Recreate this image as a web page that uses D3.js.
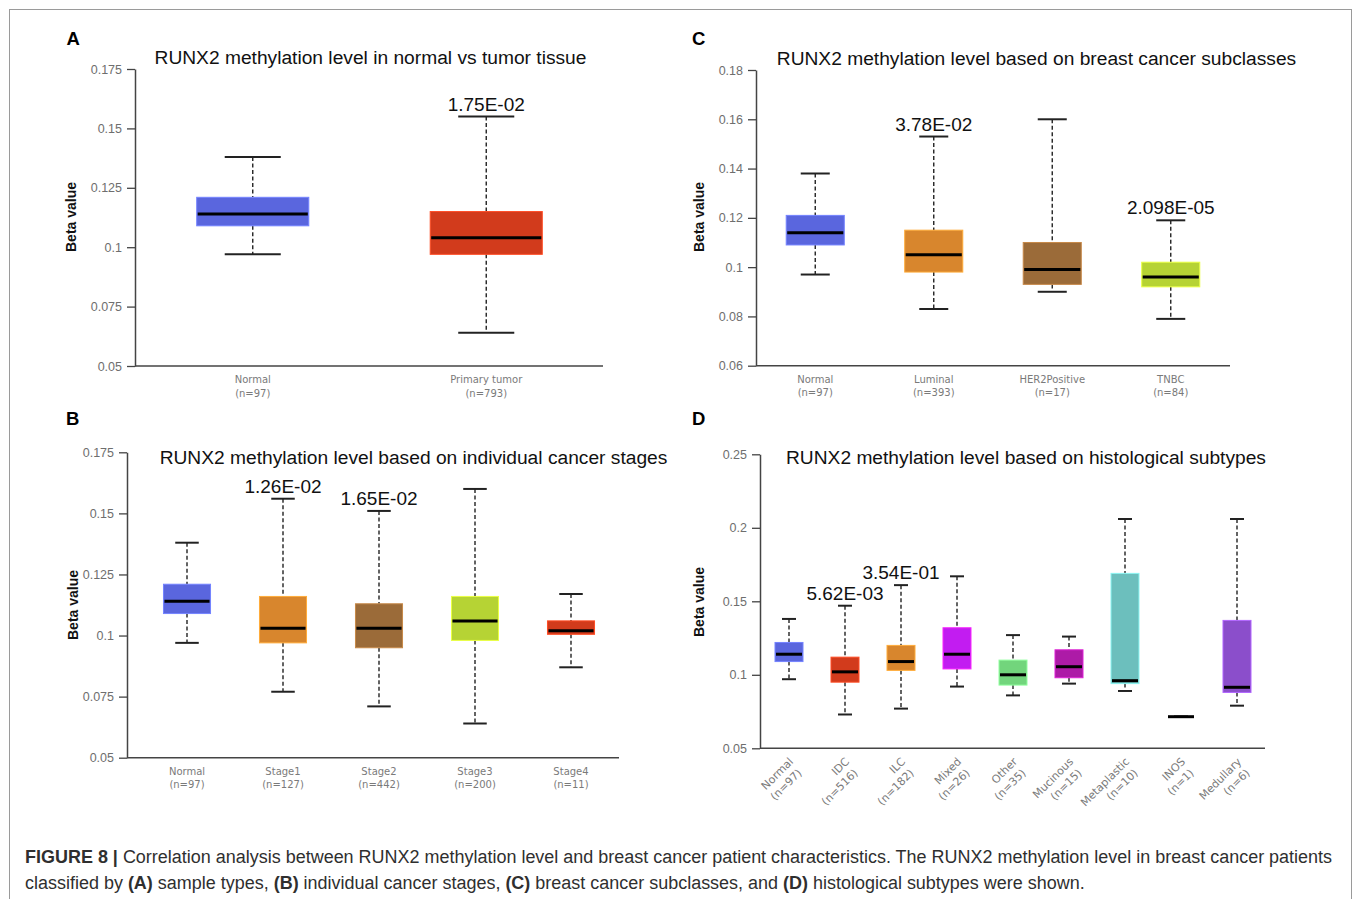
<!DOCTYPE html>
<html>
<head>
<meta charset="utf-8">
<script src="https://cdn.jsdelivr.net/npm/d3@7"></script>
<style>
  body { margin: 0; background: #fff; }
  svg { display: block; }
</style>
</head>
<body>
<svg id="fig" width="1358" height="899"></svg>
<script>
// ---- data: each box is [min, q1, median, q3, max] ----
var catsA = ["Normal", "Primary tumor"];
var nA = [97, 793];
var boxA = [[0.097, 0.109, 0.114, 0.121, 0.138], [0.064, 0.097, 0.104, 0.115, 0.155]];
var pA = [null, "1.75E-02"];
var ticksA = [0.05, 0.075, 0.1, 0.125, 0.15, 0.175];

var catsB = ["Normal", "Stage1", "Stage2", "Stage3", "Stage4"];
var nB = [97, 127, 442, 200, 11];
var boxB = [[0.097, 0.109, 0.114, 0.121, 0.138], [0.077, 0.097, 0.103, 0.116, 0.156],
            [0.071, 0.095, 0.103, 0.113, 0.151], [0.064, 0.098, 0.106, 0.116, 0.160],
            [0.087, 0.1005, 0.102, 0.106, 0.117]];
var pB = [null, "1.26E-02", "1.65E-02", null, null];
var ticksB = [0.05, 0.075, 0.1, 0.125, 0.15, 0.175];

var catsC = ["Normal", "Luminal", "HER2Positive", "TNBC"];
var nC = [97, 393, 17, 84];
var boxC = [[0.097, 0.109, 0.114, 0.121, 0.138], [0.083, 0.098, 0.105, 0.115, 0.153],
            [0.090, 0.093, 0.099, 0.110, 0.160], [0.079, 0.092, 0.096, 0.102, 0.119]];
var pC = [null, "3.78E-02", null, "2.098E-05"];
var ticksC = [0.06, 0.08, 0.1, 0.12, 0.14, 0.16, 0.18];

var catsD = ["Normal", "IDC", "ILC", "Mixed", "Other", "Mucinous", "Metaplastic", "INOS", "Medullary"];
var nD = [97, 516, 182, 26, 35, 15, 10, 1, 6];
var boxD = [[0.097, 0.109, 0.114, 0.122, 0.138], [0.073, 0.095, 0.102, 0.112, 0.147],
            [0.077, 0.103, 0.109, 0.120, 0.161], [0.092, 0.104, 0.114, 0.132, 0.167],
            [0.086, 0.093, 0.100, 0.110, 0.127], [0.094, 0.098, 0.1055, 0.117, 0.126],
            [0.089, 0.094, 0.096, 0.169, 0.206], [0.0715, 0.0715, 0.0715, 0.0715, 0.0715],
            [0.079, 0.088, 0.0915, 0.137, 0.206]];
var pD = [null, "5.62E-03", "3.54E-01", null, null, null, null, null, null];
var ticksD = [0.05, 0.1, 0.15, 0.2, 0.25];

// ---- colours ----
var blue = "#5a66de", red = "#d23b1c", orange = "#d8862d", brown = "#9b6b39", lime = "#b6d334";
var colorsA = [blue, red];
var colorsB = [blue, orange, brown, lime, red];
var colorsC = [blue, orange, brown, lime];
var colorsD = [blue, red, orange, "#c21cf1", "#72d57c", "#ad1ba7", "#6cbfbd", "#222", "#8b4ecb"];

var FONT = "'Liberation Sans', Arial, Helvetica, sans-serif";
var svg = d3.select("#fig");

// frame
svg.append("rect")
    .attr("x", 9.5).attr("y", 9.5)
    .attr("width", 1342).attr("height", 900)
    .attr("fill", "none").attr("stroke", "#9a9a9a").attr("stroke-width", 1);

function boxPanel(o) {
    var g = svg.append("g");
    var y = d3.scaleLinear()
        .domain([o.ticks[0], o.ticks[o.ticks.length - 1]])
        .range([o.bottom, o.top]);
    var x = d3.scaleBand().domain(o.cats).range(o.band);
    var bw = x.bandwidth() * o.boxFrac;

    // y axis
    var ya = g.append("g")
        .attr("transform", "translate(" + o.axisX + ",0)")
        .call(d3.axisLeft(y).tickValues(o.ticks).tickFormat(function(d) { return String(d); })
            .tickSize(8).tickSizeOuter(0).tickPadding(5));
    ya.select(".domain").attr("stroke", "#444").attr("stroke-width", 1.5);
    ya.selectAll(".tick line").attr("stroke", "#444").attr("stroke-width", 1.3);
    ya.selectAll(".tick text")
        .attr("fill", "#6e6e6e").style("font-size", "12.5px").style("font-family", FONT);

    // x axis line
    g.append("line")
        .attr("x1", o.axisX).attr("x2", o.band[1])
        .attr("y1", o.bottom).attr("y2", o.bottom)
        .attr("stroke", "#444").attr("stroke-width", 1.5);

    // category labels
    var lab = g.selectAll("text.cat").data(o.cats).enter().append("text")
        .attr("class", "cat")
        .attr("fill", "#7a7a7a")
        .style("font-family", "'DejaVu Sans', Verdana, sans-serif");
    if (o.rotate) {
        lab.attr("text-anchor", "end")
            .style("font-size", "11px")
            .attr("transform", function(d) {
                return "translate(" + (x(d) + x.bandwidth() / 2 + 5) + "," + (o.bottom + 14) + ") rotate(-45)";
            });
        lab.append("tspan").attr("x", 0).attr("y", 0).text(function(d) { return d; });
        lab.append("tspan").attr("x", -2).attr("dy", 14)
            .text(function(d, i) { return "(n=" + o.n[i] + ")"; });
    } else {
        lab.attr("text-anchor", "middle").style("font-size", "10px");
        lab.append("tspan")
            .attr("x", function(d) { return x(d) + x.bandwidth() / 2; })
            .attr("y", o.bottom + 17)
            .text(function(d) { return d; });
        lab.append("tspan")
            .attr("x", function(d) { return x(d) + x.bandwidth() / 2; })
            .attr("y", o.bottom + 30.5)
            .text(function(d, i) { return "(n=" + o.n[i] + ")"; });
    }

    // boxes
    var rows = o.cats.map(function(c, i) {
        return { c: c, s: o.box[i], col: o.colors[i], p: o.p[i] };
    });
    var b = g.selectAll("g.bx").data(rows).enter().append("g").attr("class", "bx")
        .attr("transform", function(d) { return "translate(" + (x(d.c) + x.bandwidth() / 2) + ",0)"; });

    // whiskers (dashed)
    b.append("line").attr("x1", 0).attr("x2", 0)
        .attr("y1", function(d) { return y(d.s[4]); })
        .attr("y2", function(d) { return y(d.s[3]); })
        .attr("stroke", "#222").attr("stroke-width", 1.4).attr("stroke-dasharray", "4,2.5");
    b.append("line").attr("x1", 0).attr("x2", 0)
        .attr("y1", function(d) { return y(d.s[1]); })
        .attr("y2", function(d) { return y(d.s[0]); })
        .attr("stroke", "#222").attr("stroke-width", 1.4).attr("stroke-dasharray", "4,2.5");
    // caps
    [0, 4].forEach(function(k) {
        b.append("line")
            .attr("x1", -bw / 4).attr("x2", bw / 4)
            .attr("y1", function(d) { return y(d.s[k]); })
            .attr("y2", function(d) { return y(d.s[k]); })
            .attr("stroke", "#222").attr("stroke-width", 2);
    });
    // box
    b.append("rect")
        .attr("x", -bw / 2).attr("width", bw)
        .attr("y", function(d) { return y(d.s[3]); })
        .attr("height", function(d) { return y(d.s[1]) - y(d.s[3]); })
        .attr("fill", function(d) { return d.col; })
        .attr("stroke", function(d) { return d3.color(d.col).brighter(0.7); })
        .attr("stroke-width", 1);
    // median
    b.append("line")
        .attr("x1", -bw / 2 + 1).attr("x2", bw / 2 - 1)
        .attr("y1", function(d) { return y(d.s[2]); })
        .attr("y2", function(d) { return y(d.s[2]); })
        .attr("stroke", "#000").attr("stroke-width", 3);

    // p-value labels
    b.filter(function(d) { return d.p; }).append("text")
        .attr("text-anchor", "middle")
        .attr("x", 0)
        .attr("y", function(d) { return y(d.s[4]) - 6; })
        .style("font-family", FONT).style("font-size", "19px")
        .attr("fill", "#111")
        .text(function(d) { return d.p; });

    // title
    g.append("text")
        .attr("x", o.titleX).attr("y", o.titleY + 7)
        .attr("text-anchor", "middle")
        .style("font-family", FONT).style("font-size", "19.2px")
        .attr("fill", "#111")
        .text(o.title);

    // y label
    g.append("text")
        .attr("transform", "translate(" + (o.yLabX + 5) + "," + o.yLabY + ") rotate(-90)")
        .attr("text-anchor", "middle")
        .style("font-family", FONT).style("font-size", "14px").style("font-weight", "bold")
        .attr("fill", "#111")
        .text("Beta value");

    // panel letter
    g.append("text")
        .attr("x", o.letterX).attr("y", o.letterY)
        .style("font-family", FONT).style("font-size", "18.5px").style("font-weight", "bold")
        .attr("fill", "#000")
        .text(o.letter);
}

boxPanel({ cats: catsA, n: nA, box: boxA, p: pA, ticks: ticksA, colors: colorsA,
    top: 69, bottom: 366, axisX: 135, band: [136, 603], boxFrac: 0.48,
    title: "RUNX2 methylation level in normal vs tumor tissue", titleX: 370.5, titleY: 57,
    yLabX: 71, yLabY: 217, letter: "A", letterX: 66.5, letterY: 45 });

boxPanel({ cats: catsB, n: nB, box: boxB, p: pB, ticks: ticksB, colors: colorsB,
    top: 452.3, bottom: 757.7, axisX: 127, band: [139, 619], boxFrac: 0.49,
    title: "RUNX2 methylation level based on individual cancer stages", titleX: 413.5, titleY: 457,
    yLabX: 72.5, yLabY: 605, letter: "B", letterX: 66, letterY: 425 });

boxPanel({ cats: catsC, n: nC, box: boxC, p: pC, ticks: ticksC, colors: colorsC,
    top: 70, bottom: 365.7, axisX: 756, band: [756, 1230], boxFrac: 0.49,
    title: "RUNX2 methylation level based on breast cancer subclasses", titleX: 1036.5, titleY: 58,
    yLabX: 698.5, yLabY: 217, letter: "C", letterX: 692, letterY: 45 });

boxPanel({ cats: catsD, n: nD, box: boxD, p: pD, ticks: ticksD, colors: colorsD,
    top: 454.3, bottom: 748.3, axisX: 760, band: [761, 1265], boxFrac: 0.5, rotate: true,
    title: "RUNX2 methylation level based on histological subtypes", titleX: 1026, titleY: 457,
    yLabX: 699, yLabY: 602, letter: "D", letterX: 692, letterY: 425 });

// ---- caption ----
var cap1 = [["FIGURE 8 | ", true],
    ["Correlation analysis between RUNX2 methylation level and breast cancer patient characteristics. The RUNX2 methylation level in breast cancer patients", false]];
var cap2 = [["classified by ", false], ["(A)", true], [" sample types, ", false], ["(B)", true],
    [" individual cancer stages, ", false], ["(C)", true], [" breast cancer subclasses, and ", false],
    ["(D)", true], [" histological subtypes were shown.", false]];

function capLine(parts, yy) {
    var t = svg.append("text")
        .attr("x", 25).attr("y", yy)
        .attr("fill", "#2f2f2f")
        .style("font-family", FONT).style("font-size", "16px")
        .attr("xml:space", "preserve");
    parts.forEach(function(p) {
        t.append("tspan").style("font-weight", p[1] ? "bold" : "normal").text(p[0]);
    });
    return t;
}
var l1 = capLine(cap1, 863);
var l2 = capLine(cap2, 889);
var w1 = l1.node().getComputedTextLength();
var fs = 16 * 1308 / w1;
l1.style("font-size", fs + "px");
l2.style("font-size", fs + "px");
</script>
</body>
</html>
